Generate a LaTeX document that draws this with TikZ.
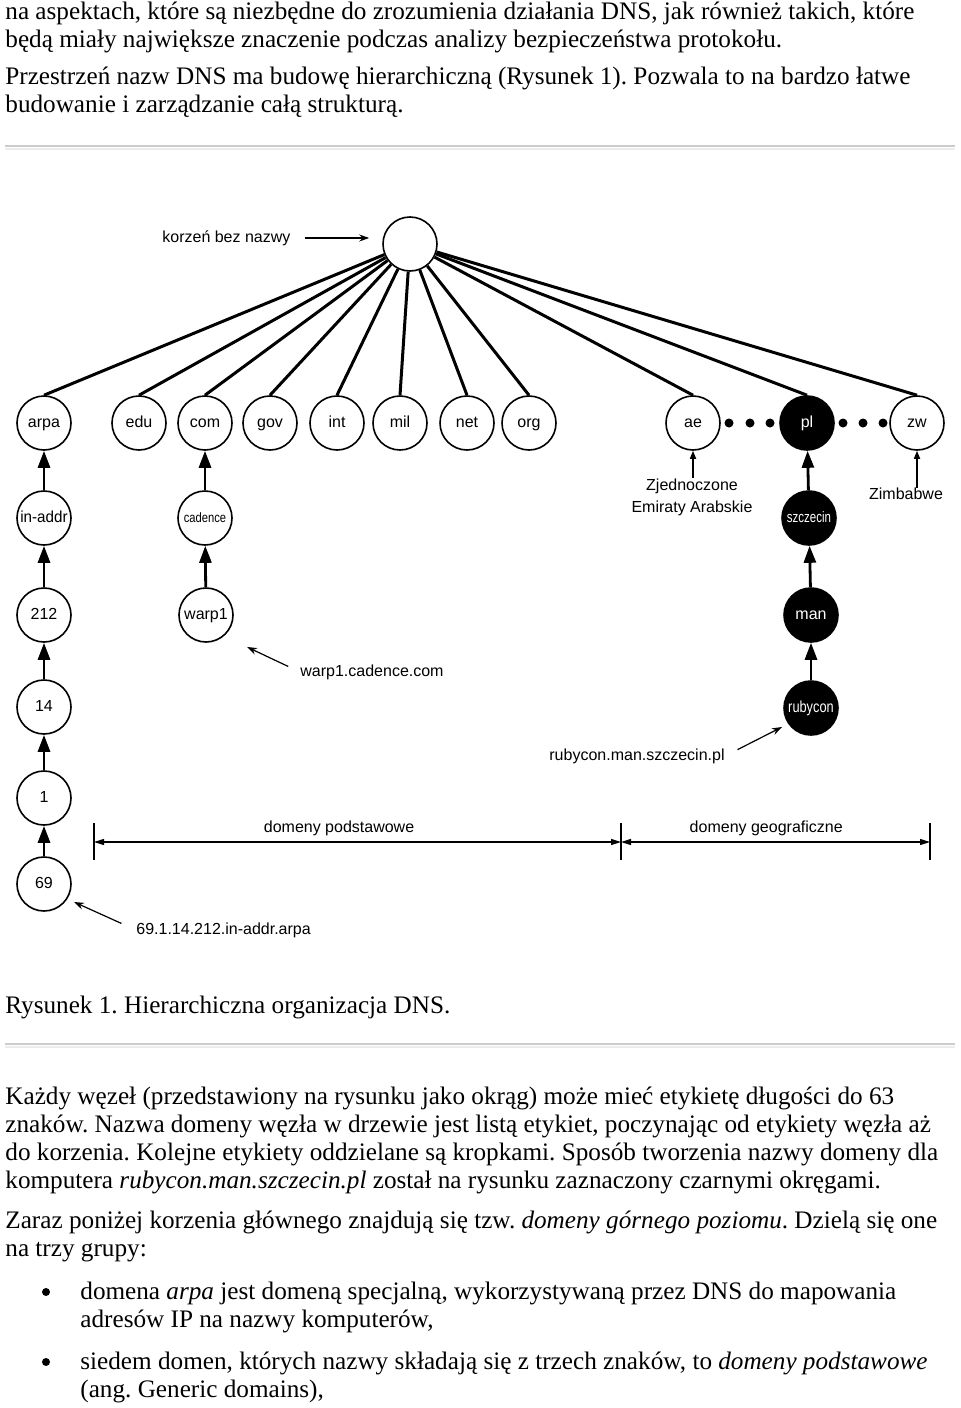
\documentclass[tikz,border=0pt]{standalone}
\usepackage{fontspec}
\setmainfont{Liberation Serif}
\newfontfamily\diagfont{Liberation Sans}
\usepackage{graphicx}
\usetikzlibrary{arrows.meta,positioning}
\frenchspacing

\tikzset{
  dom/.style={circle, draw, line width=0.8pt, minimum size=27pt, inner sep=0pt, text height=5.8pt, text depth=1.6pt, font=\diagfont\fontsize{8}{9}\selectfont},
  domblack/.style={dom, fill=black, text=white},
  up/.style={line width=1.4pt, -{Triangle[length=8.5pt,width=6pt]}},
  branch/.style={line width=1.5pt},
  pointer/.style={line width=0.6pt, -{Stealth[length=5pt,width=3.5pt]}},
  dimline/.style={line width=0.6pt, {Triangle[length=5pt,width=3pt]}-{Triangle[length=5pt,width=3pt]}},
  body/.style={anchor=base west, inner sep=0pt, font=\fontsize{12.6}{15}\selectfont},
  lbl/.style={inner sep=0pt, font=\diagfont\fontsize{8}{10}\selectfont},
  dot/.style={circle, fill=black, inner sep=0pt, minimum size=4.5pt},
}

\begin{document}
\begin{tikzpicture}[x=0.5pt, y=-0.5pt]
    \useasboundingbox (0,0) rectangle (960,1408);
    \def\ya{423};   %level of top domains%
    \def\xl{5};     %left margin of text%

    % text above the figure
    \node[body] (t1) at (\xl,19) {na aspektach, które są niezbędne do zrozumienia działania DNS, jak również takich, które};
    \node[body] (t2) at (\xl,47) {będą miały największe znaczenie podczas analizy bezpieczeństwa protokołu.};
    \node[body] (t3) at (\xl,84) {Przestrzeń nazw DNS ma budowę hierarchiczną (Rysunek 1). Pozwala to na bardzo łatwe};
    \node[body] (t4) at (\xl,112) {budowanie i zarządzanie całą strukturą.};
    \draw[gray!40, line width=1pt] (5,146) -- (955,146);
    \draw[gray!15, line width=1pt] (5,149) -- (955,149);

    % root
    \node[dom] (root) at (410,244) {};
    \node[lbl, anchor=west] (rootlbl) at (162,238) {korzeń bez nazwy};
    \draw[pointer, shorten <=7pt, shorten >=6.5pt] (rootlbl.east) -- (rootlbl.east -| root.west);

    % top level domains
    \node[dom] (arpa) at (44,\ya) {arpa};
    \node[dom] (edu) at (139,\ya) {edu};
    \node[dom] (com) at (205,\ya) {com};
    \node[dom] (gov) at (270,\ya) {gov};
    \node[dom] (int) at (337,\ya) {int};
    \node[dom] (mil) at (400,\ya) {mil};
    \node[dom] (net) at (467,\ya) {net};
    \node[dom] (org) at (529,\ya) {org};
    \node[dom] (ae) at (693,\ya) {ae};
    \node[domblack] (pl) at (807,\ya) {pl};
    \node[dom] (zw) at (917,\ya) {zw};

    \draw[branch] (root) -- (arpa.north);
    \draw[branch] (root) -- (edu.north);
    \draw[branch] (root) -- (com.north);
    \draw[branch] (root) -- (gov.north);
    \draw[branch] (root) -- (int.north);
    \draw[branch] (root) -- (mil.north);
    \draw[branch] (root) -- (net.north);
    \draw[branch] (root) -- (org.north);
    \draw[branch] (root) -- (ae.north);
    \draw[branch] (root) -- (pl.north);
    \draw[branch] (root) -- (zw.north);

    \node[dot] (d1) at (729,\ya) {};
    \node[dot] (d2) at (750,\ya) {};
    \node[dot] (d3) at (770,\ya) {};
    \node[dot] (d4) at (843,\ya) {};
    \node[dot] (d5) at (863,\ya) {};
    \node[dot] (d6) at (883,\ya) {};

    % arpa branch
    \node[dom] (inaddr) at (44,518) {\scalebox{0.95}[1]{in-addr}};
    \node[dom] (n212) at (44,615) {212};
    \node[dom] (n14) at (44,707) {14};
    \node[dom] (n1) at (44,798) {1};
    \node[dom] (n69) at (44,884) {69};
    \draw[up] (inaddr) -- (arpa);
    \draw[up] (n212) -- (inaddr);
    \draw[up] (n14) -- (n212);
    \draw[up] (n1) -- (n14);
    \draw[up] (n69) -- (n1);
    \node[lbl, anchor=west] (arpalbl) at (136,930) {69.1.14.212.in-addr.arpa};
    \coordinate (arpatip) at (74,902);
    \draw[pointer, shorten <=8pt] (arpalbl.west) -- (arpatip);

    % com branch
    \node[dom] (cadence) at (205,518) {\scalebox{0.7}[0.85]{cadence}};
    \node[dom] (warp) at (206,615) {warp1};
    \draw[up] (cadence) -- (com);
    \draw[up] (warp) -- (cadence);
    \node[lbl, anchor=west] (warplbl) at (300,672) {warp1.cadence.com};
    \coordinate (warptip) at (247,647);
    \draw[pointer, shorten <=6.5pt] (warplbl.west) -- (warptip);

    % pl branch
    \node[domblack] (szczecin) at (809,518) {\scalebox{0.72}[0.95]{szczecin}};
    \node[domblack] (man) at (811,615) {man};
    \node[domblack] (rubycon) at (811,708) {\scalebox{0.8}[1]{rubycon}};
    \draw[up] (szczecin) -- (pl);
    \draw[up] (man) -- (szczecin);
    \draw[up] (rubycon) -- (man);
    \node[lbl, anchor=east] (rublbl) at (725,756) {rubycon.man.szczecin.pl};
    \coordinate (rubtip) at (782,727);
    \draw[pointer, shorten <=7pt] (rublbl.east) -- (rubtip);

    % country names
    \node[lbl, align=center] (aelbl) at (692,497) {Zjednoczone\\[1pt]Emiraty Arabskie};
    \node[lbl] (zwlbl) at (906,494) {Zimbabwe};
    \draw[up, line width=0.8pt, -{Triangle[length=4pt,width=3pt]}] (aelbl.north -| ae) -- (ae);
    \draw[up, line width=0.8pt, -{Triangle[length=4pt,width=3pt]}] (zwlbl.north -| zw) -- (zw);

    % groups
    \coordinate (dl) at (94,842);
    \coordinate (dm) at (621,842);
    \coordinate (dr) at (930,842);
    \draw[line width=0.6pt] (94,823) -- (94,860);
    \draw[line width=0.6pt] (621,823) -- (621,860);
    \draw[line width=0.6pt] (930,823) -- (930,860);
    \draw[dimline] (dl) -- node[lbl, pos=0.465, yshift=7pt] {domeny podstawowe} (dm);
    \draw[dimline] (dm) -- node[lbl, pos=0.47, yshift=7pt] {domeny geograficzne} (dr);

    % caption and text below
    \node[body] (cap) at (\xl,1013) {Rysunek 1. Hierarchiczna organizacja DNS.};
    \draw[gray!40, line width=1pt] (5,1044) -- (955,1044);
    \draw[gray!15, line width=1pt] (5,1047) -- (955,1047);
    \node[body] (p1) at (\xl,1104) {Każdy węzeł (przedstawiony na rysunku jako okrąg) może mieć etykietę długości do 63};
    \node[body] (p2) at (\xl,1132) {znaków. Nazwa domeny węzła w drzewie jest listą etykiet, poczynając od etykiety węzła aż};
    \node[body] (p3) at (\xl,1160) {do korzenia. Kolejne etykiety oddzielane są kropkami. Sposób tworzenia nazwy domeny dla};
    \node[body] (p4) at (\xl,1188) {komputera \textit{rubycon.man.szczecin.pl} został na rysunku zaznaczony czarnymi okręgami.};
    \node[body] (p5) at (\xl,1228) {Zaraz poniżej korzenia głównego znajdują się tzw. \textit{domeny górnego poziomu}. Dzielą się one};
    \node[body] (p6) at (\xl,1256) {na trzy grupy:};
    \node[dot, minimum size=4pt] (b1) at (46,1292) {};
    \node[body] (p7) at (80,1299) {domena \textit{arpa} jest domeną specjalną, wykorzystywaną przez DNS do mapowania};
    \node[body] (p8) at (80,1327) {adresów IP na nazwy komputerów,};
    \node[dot, minimum size=4pt] (b2) at (46,1362) {};
    \node[body] (p9) at (80,1369) {siedem domen, których nazwy składają się z trzech znaków, to \textit{domeny podstawowe}};
    \node[body] (p10) at (80,1397) {(ang. Generic domains),};
\end{tikzpicture}
\end{document}
